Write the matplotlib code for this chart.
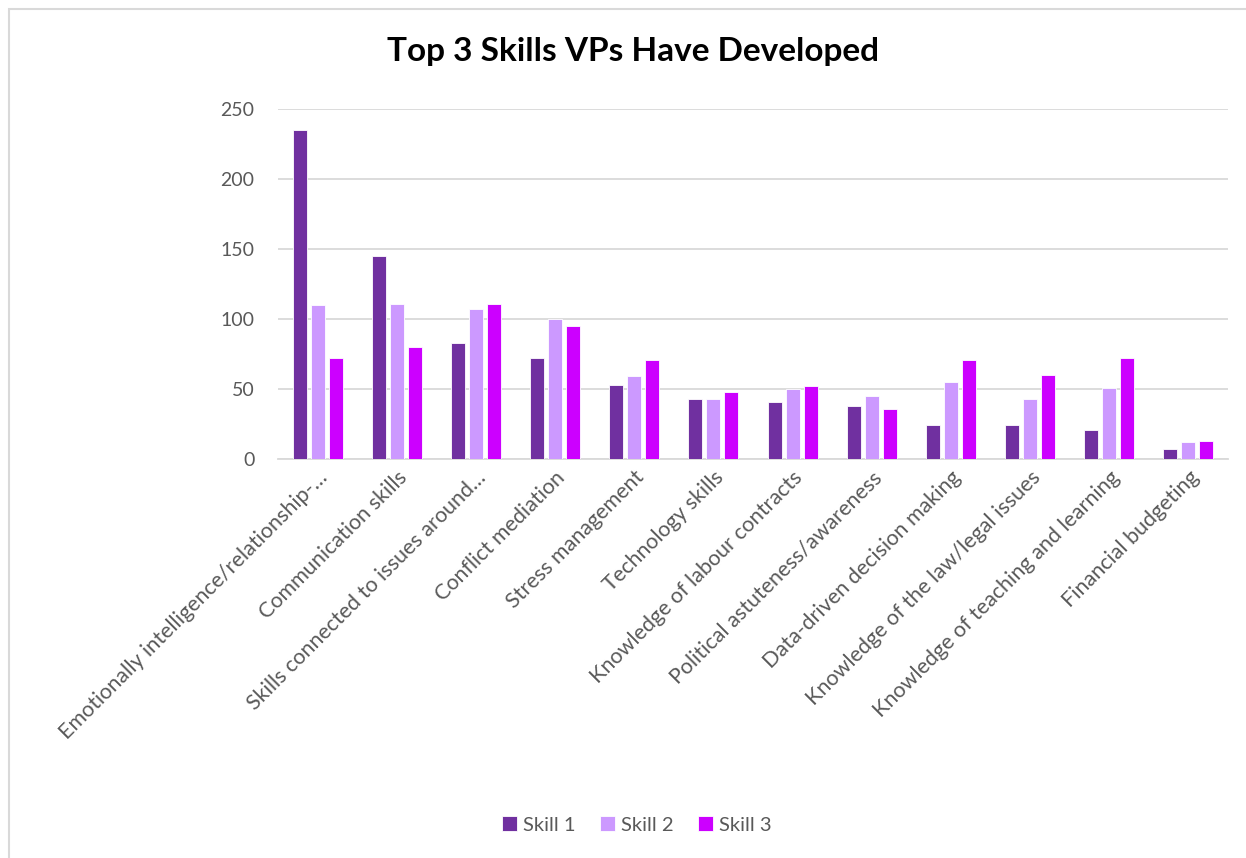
import numpy as np
import matplotlib
matplotlib.use("Agg")
import matplotlib.pyplot as plt
from matplotlib.patches import Rectangle

plt.rcParams["font.family"] = ["Lato", "DejaVu Sans"]

categories = [
    "Emotionally intelligence/relationship-\u2026",
    "Communication skills",
    "Skills connected to issues around\u2026",
    "Conflict mediation",
    "Stress management",
    "Technology skills",
    "Knowledge of labour contracts",
    "Political astuteness/awareness",
    "Data-driven decision making",
    "Knowledge of the law/legal issues",
    "Knowledge of teaching and learning",
    "Financial budgeting",
]
skill1 = [235, 145, 83, 72, 53, 43, 41, 38, 24, 24, 21, 7]
skill2 = [110, 111, 107, 100, 59, 43, 50, 45, 55, 43, 51, 12]
skill3 = [72, 80, 111, 95, 71, 48, 52, 36, 71, 60, 72, 13]
series_names = ["Skill 1", "Skill 2", "Skill 3"]
colors = ["#7030A0", "#CC99FF", "#CC00FF"]

fig = plt.figure(figsize=(12.46, 8.58), dpi=100)
ax = fig.add_axes([278 / 1246, 1 - 459 / 858, 950 / 1246, 350 / 858])

# outer chart frame
fig.patches.append(Rectangle((9 / 1246, -0.1), 1.2, 1 - 9 / 858 + 0.1,
                             transform=fig.transFigure, fill=False,
                             edgecolor="#D9D9D9", linewidth=1.5))

x = np.arange(len(categories))
step = 0.227
width = 0.177
for i, (vals, name, col) in enumerate(zip([skill1, skill2, skill3], series_names, colors)):
    ax.bar(x + (i - 1) * step, vals, width, color=col, label=name,
           edgecolor="white", linewidth=0.6, zorder=3)

ax.set_xlim(-0.5, len(categories) - 0.5)
ax.set_ylim(0, 250)
ax.set_yticks(range(0, 251, 50))
ax.yaxis.grid(True, color="#D9D9D9", linewidth=1.3, zorder=0)
ax.set_axisbelow(True)
for s in ["top", "right", "left"]:
    ax.spines[s].set_visible(False)
ax.spines["bottom"].set_color("#D9D9D9")
ax.spines["bottom"].set_linewidth(1.3)
ax.tick_params(axis="y", length=0, pad=17, labelsize=14, labelcolor="#595959")
ax.tick_params(axis="x", length=0, pad=6, labelsize=15.5, labelcolor="#595959")
ax.set_xticks(x)
ax.set_xticklabels(categories, rotation=45, ha="right", rotation_mode="anchor")

fig.text(633 / 1246, 1 - 52 / 858, "Top 3 Skills VPs Have Developed",
         ha="center", va="center", fontsize=24, fontweight="bold", color="black")

fig.legend(loc="center", bbox_to_anchor=(637 / 1246, 1 - 825 / 858), ncol=3,
           frameon=False, fontsize=14.5, labelcolor="#595959",
           handlelength=0.75, handleheight=0.75, handletextpad=0.3,
           columnspacing=1.2)

fig.savefig("out.png", dpi=100)
